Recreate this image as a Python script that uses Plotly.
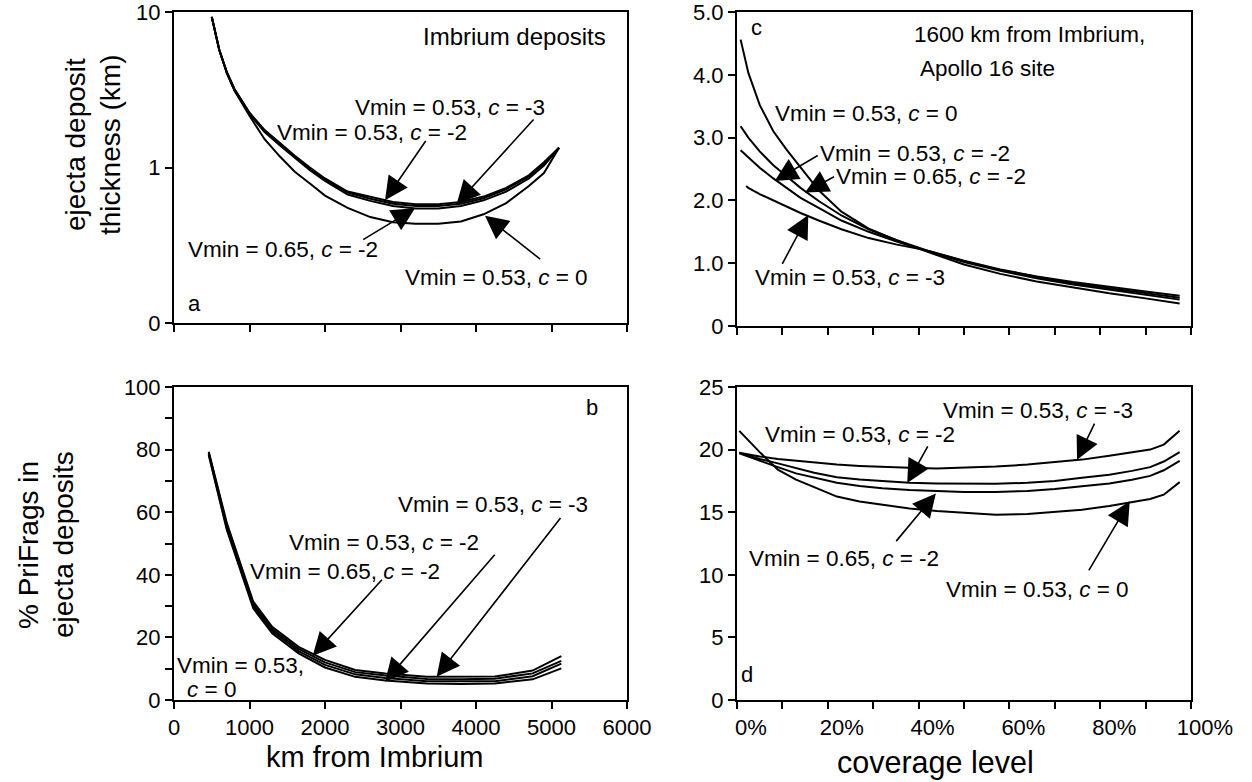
import plotly.graph_objects as go

# ---------------- data ----------------
# panel a: ejecta deposit thickness (km) vs km from Imbrium (log axis)
dist_a = [500, 600, 700, 800, 1000, 1200, 1400, 1600, 1800, 2000, 2300, 2600,
          2900, 3200, 3500, 3800, 4100, 4400, 4700, 4900, 5100]
thick_053_c3 = [9.3, 5.7, 4.1, 3.2, 2.25, 1.74, 1.44, 1.19, 1.0, 0.85, 0.70, 0.645,
                0.60, 0.58, 0.58, 0.60, 0.65, 0.74, 0.89, 1.08, 1.34]
thick_053_c2 = [9.3, 5.7, 4.1, 3.2, 2.24, 1.73, 1.42, 1.17, 0.98, 0.84, 0.69, 0.63,
                0.585, 0.565, 0.565, 0.585, 0.635, 0.725, 0.875, 1.06, 1.34]
thick_065_c2 = [9.3, 5.7, 4.05, 3.15, 2.2, 1.69, 1.39, 1.15, 0.96, 0.82, 0.67, 0.61,
                0.565, 0.545, 0.545, 0.565, 0.615, 0.70, 0.85, 1.03, 1.34]
thick_053_c0 = [9.3, 5.7, 4.05, 3.12, 2.15, 1.52, 1.18, 0.94, 0.79, 0.66, 0.55, 0.48,
                0.445, 0.435, 0.435, 0.45, 0.50, 0.59, 0.76, 0.92, 1.34]

# panel b: % PriFrags vs km from Imbrium
dist_b = [460, 700, 1050, 1300, 1650, 2000, 2400, 2800, 3350, 3800, 4250, 4750, 5130]
pf_053_c3 = [79.3, 56.5, 31.4, 23.4, 17.0, 12.8, 9.6, 8.5, 7.45, 7.45, 7.5, 9.4, 14.0]
pf_053_c2 = [79.0, 55.8, 30.7, 22.7, 16.3, 12.0, 8.9, 7.8, 6.7, 6.6, 6.8, 8.5, 12.5]
pf_065_c2 = [78.6, 55.0, 30.0, 22.0, 15.6, 11.2, 8.2, 7.0, 6.0, 5.9, 6.0, 7.6, 11.6]
pf_053_c0 = [78.3, 54.3, 29.3, 21.3, 14.9, 10.4, 7.4, 6.2, 5.3, 5.1, 5.3, 6.6, 10.1]

# panel c: thickness at 1600 km vs coverage level (%)
cov_c = [0.8, 2.5, 5, 8, 11, 14, 18, 23, 29, 35, 42, 50, 58, 66, 74, 82, 90, 97.5]
thc_053_c0 = [4.56, 4.03, 3.52, 3.10, 2.80, 2.52, 2.16, 1.82, 1.55, 1.37, 1.18, 0.98,
              0.83, 0.71, 0.61, 0.52, 0.44, 0.36]
thc_053_c2 = [3.18, 3.00, 2.78, 2.56, 2.38, 2.20, 1.99, 1.76, 1.54, 1.37, 1.20, 1.03,
              0.89, 0.78, 0.68, 0.60, 0.52, 0.45]
thc_065_c2 = [2.80, 2.68, 2.52, 2.35, 2.19, 2.04, 1.88, 1.68, 1.50, 1.35, 1.19, 1.02,
              0.88, 0.76, 0.66, 0.58, 0.50, 0.42]
cov_c3 = [2.0, 2.5, 5, 8, 11, 14, 18, 23, 29, 35, 42, 50, 58, 66, 74, 82, 90, 97.5]
thc_053_c3 = [2.23, 2.20, 2.10, 2.00, 1.90, 1.80, 1.68, 1.54, 1.40, 1.30, 1.20, 1.04,
              0.90, 0.79, 0.70, 0.62, 0.55, 0.48]

# panel d: % PriFrags at 1600 km vs coverage level (%)
cov_d = [0.5, 5, 9, 13, 17, 22, 27, 32, 38, 44, 50, 57, 64, 70, 76, 82, 87, 91, 94, 97.5]
pfd_053_c0 = [21.5, 19.8, 18.4, 17.6, 17.0, 16.25, 15.85, 15.58, 15.3, 15.1, 14.95, 14.8,
              14.85, 15.0, 15.2, 15.5, 15.8, 16.05, 16.4, 17.4]
pfd_053_c3 = [19.75, 19.45, 19.25, 19.1, 18.95, 18.8, 18.7, 18.62, 18.56, 18.5, 18.55, 18.65,
              18.8, 19.0, 19.2, 19.5, 19.75, 20.0, 20.4, 21.5]
pfd_053_c2 = [19.75, 19.25, 18.9, 18.5, 18.15, 17.8, 17.62, 17.5, 17.35, 17.3, 17.27, 17.27,
              17.35, 17.5, 17.75, 18.0, 18.3, 18.6, 19.05, 19.8]
pfd_065_c2 = [19.7, 19.1, 18.6, 18.1, 17.75, 17.35, 17.1, 16.92, 16.78, 16.67, 16.62, 16.61,
              16.7, 16.85, 17.05, 17.3, 17.6, 17.9, 18.35, 19.1]

lab_c3 = "Vmin = 0.53, <i>c</i> = -3"
lab_c2 = "Vmin = 0.53, <i>c</i> = -2"
lab_65 = "Vmin = 0.65, <i>c</i> = -2"
lab_c0 = "Vmin = 0.53, <i>c</i> = 0"

# ---------------- layout helpers ----------------
W, H = 1252, 782
FONT = "Liberation Sans, Arial, sans-serif"


def xd(x0, x1):
    return [x0 / W, x1 / W]


def yd(y0, y1):
    return [1 - y1 / H, 1 - y0 / H]


fig = go.Figure()
LW = 2


def add(x, y, xa, ya):
    fig.add_trace(go.Scatter(x=x, y=y, mode="lines", xaxis=xa, yaxis=ya,
                             line=dict(color="black", width=LW), showlegend=False,
                             hoverinfo="skip"))


for s in (thick_053_c3, thick_053_c2, thick_065_c2, thick_053_c0):
    add(dist_a, s, "x", "y")
for s in (thc_053_c0, thc_053_c2, thc_065_c2):
    add(cov_c, s, "x2", "y2")
add(cov_c3, thc_053_c3, "x2", "y2")
for s in (pf_053_c3, pf_053_c2, pf_065_c2, pf_053_c0):
    add(dist_b, s, "x3", "y3")
for s in (pfd_053_c0, pfd_053_c3, pfd_053_c2, pfd_065_c2):
    add(cov_d, s, "x4", "y4")

tickfont = dict(family=FONT, size=22, color="black")
base = dict(showline=True, mirror=True, linecolor="black", linewidth=2,
            ticks="outside", ticklen=7, tickwidth=2, tickcolor="black",
            showgrid=False, zeroline=False, tickfont=tickfont, automargin=False,
            ticklabeloverflow="allow")

dom_ax = xd(174, 627)
dom_cx = xd(737, 1191)
dom_top_a = yd(12, 323)
dom_top_c = yd(12, 326)
dom_bot = yd(387, 700)

minor10 = dict(ticks="outside", ticklen=7, tickwidth=2, tickcolor="black", dtick=10,
               showgrid=False)

fig.update_layout(
    width=W, height=H, margin=dict(l=0, r=0, t=0, b=0, autoexpand=False),
    paper_bgcolor="white", plot_bgcolor="white",
    font=dict(family=FONT, color="black"),
    xaxis=dict(base, domain=dom_ax, anchor="y", range=[0, 6000], dtick=1000,
               showticklabels=False),
    yaxis=dict(base, domain=dom_top_a, anchor="x", type="log", range=[-1, 1],
               tickvals=[0.1, 1, 10], ticktext=["0", "1", "10"]),
    xaxis2=dict(base, domain=dom_cx, anchor="y2", range=[0, 100], dtick=20,
                minor=minor10, showticklabels=False),
    yaxis2=dict(base, domain=dom_top_c, anchor="x2", range=[0, 5],
                tickvals=[0, 1, 2, 3, 4, 5], ticktext=["0", "1.0", "2.0", "3.0", "4.0", "5.0"]),
    xaxis3=dict(base, domain=dom_ax, anchor="y3", range=[0, 6000], dtick=1000),
    yaxis3=dict(base, domain=dom_bot, anchor="x3", range=[0, 100], dtick=20, minor=minor10),
    xaxis4=dict(base, domain=dom_cx, anchor="y4", range=[0, 100], dtick=20,
                minor=minor10, ticksuffix="%", ticklabelshift=14),
    yaxis4=dict(base, domain=dom_bot, anchor="x4", range=[0, 25], dtick=5),
)

ann = []
AS = 22.5


def txt(x, y, t, xr, yr, xanchor="center", size=AS):
    ann.append(dict(x=x, y=y, xref=xr, yref=yr, text=t, showarrow=False,
                    xanchor=xanchor, yanchor="middle",
                    font=dict(family=FONT, size=size, color="black")))


def arrow(x, y, ax, ay, xr, yr):
    ann.append(dict(x=x, y=y, ax=ax, ay=ay, xref=xr, yref=yr, axref=xr, ayref=yr,
                    text="", showarrow=True, arrowhead=2, arrowsize=2.9,
                    arrowwidth=1.6, arrowcolor="black"))


# panel a (y in log10 units)
txt(5748, 0.84, "Imbrium deposits", "x", "y", xanchor="right", size=24)
txt(3662, 0.386, lab_c3, "x", "y")
arrow(3744, -0.235, 4781, 0.318, "x", "y")
txt(2616, 0.226, lab_c2, "x", "y")
arrow(2795, -0.21, 3347, 0.180, "x", "y")
txt(1444, -0.527, lab_65, "x", "y")
arrow(3192, -0.262, 2486, -0.470, "x", "y")
txt(4274, -0.706, lab_c0, "x", "y")
arrow(4119, -0.31, 4870, -0.597, "x", "y")
txt(265, -0.872, "a", "x", "y", size=22)

# panel c
txt(4.3, 4.76, "c", "x2", "y2", size=22)
txt(38.5, 4.645, "1600 km from Imbrium,", "x2", "y2", xanchor="left", size=22.5)
txt(39.8, 4.10, "Apollo 16 site", "x2", "y2", xanchor="left", size=22.5)
txt(28.5, 3.38, lab_c0, "x2", "y2")
txt(39.2, 2.745, lab_c2, "x2", "y2")
arrow(8.3, 2.31, 18.1, 2.73, "x2", "y2")
txt(42.7, 2.38, lab_65, "x2", "y2")
arrow(15.0, 2.125, 21.7, 2.39, "x2", "y2")
txt(24.8, 0.77, lab_c3, "x2", "y2")
arrow(15.7, 1.767, 9.8, 0.965, "x2", "y2")

# panel b
txt(5536, 93.6, "b", "x3", "y3", size=22)
txt(4225, 62.6, lab_c3, "x3", "y3")
arrow(3479, 7.4, 5135, 58.6, "x3", "y3")
txt(2781, 50.3, lab_c2, "x3", "y3")
arrow(2795, 5.85, 4265, 46.9, "x3", "y3")
txt(2265, 41.2, lab_65, "x3", "y3")
arrow(1837, 14.1, 2772, 38.9, "x3", "y3")
txt(887, 11.0, "Vmin = 0.53,", "x3", "y3")
txt(503, 3.2, "<i>c</i> = 0", "x3", "y3")

# panel d
txt(2.3, 2.0, "d", "x4", "y4", size=22)
txt(66.2, 23.1, lab_c3, "x4", "y4")
arrow(74.9, 19.18, 78.9, 22.2, "x4", "y4")
txt(27.0, 21.2, lab_c2, "x4", "y4")
arrow(37.5, 17.33, 42.2, 20.37, "x4", "y4")
txt(23.6, 11.3, lab_65, "x4", "y4")
arrow(43.8, 16.5, 34.8, 12.57, "x4", "y4")
txt(66.2, 8.86, lab_c0, "x4", "y4")
arrow(86.5, 15.87, 77.3, 10.24, "x4", "y4")


# axis titles (paper coords)
def ptitle(X, Y, t, angle=0, size=28):
    ann.append(dict(x=X / W, y=1 - Y / H, xref="paper", yref="paper", text=t,
                    showarrow=False, textangle=angle, xanchor="center", yanchor="middle",
                    font=dict(family=FONT, size=size, color="black")))


ptitle(75, 145, "ejecta deposit", -90)
ptitle(110, 145, "thickness (km)", -90)
ptitle(28, 545, "% PriFrags in", -90)
ptitle(63, 545, "ejecta deposits", -90)
ptitle(375, 757, "km from Imbrium", 0, 29)
ptitle(935, 762, "coverage level", 0, 30.5)

fig.update_layout(annotations=ann)
fig.write_html("out.html")
